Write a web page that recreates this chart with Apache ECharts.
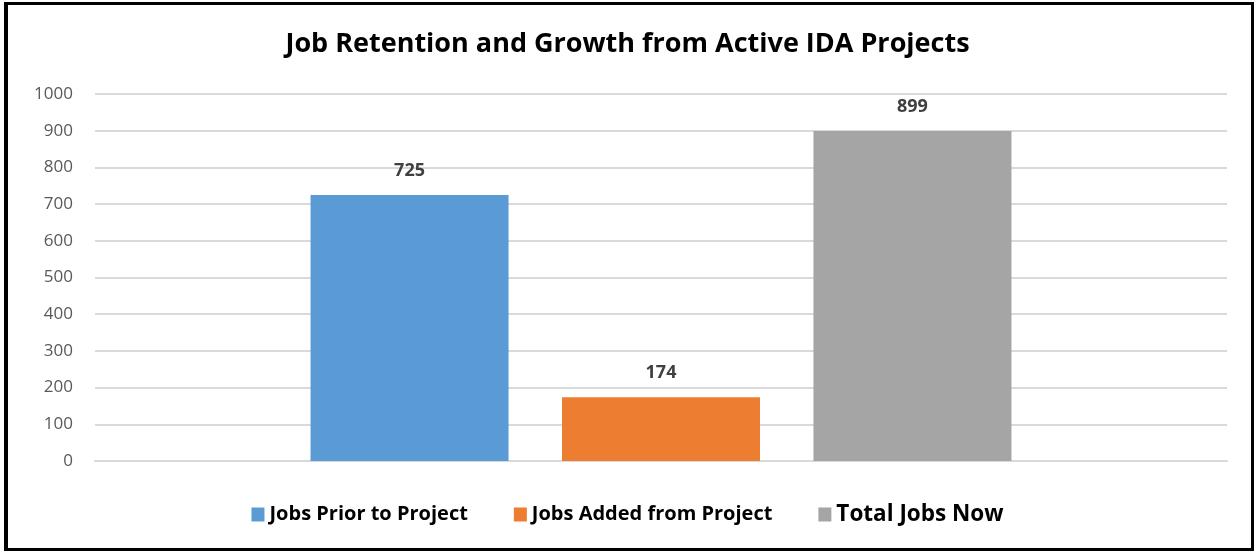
<!DOCTYPE html>
<html>
<head>
<meta charset="utf-8">
<script src="https://cdn.jsdelivr.net/npm/echarts@6/dist/echarts.min.js"></script>
<style>
    html, body { margin: 0; padding: 0; background: #fff; }
    #chart { position: absolute; left: 0; top: 0; width: 1255px; height: 554px; }
    #frame {
        position: absolute; left: 4px; top: 2px; width: 1243px; height: 543px;
        border: 3px solid #000; border-left-width: 4px; pointer-events: none;
    }
</style>
</head>
<body>
<div id="chart"></div>
<div id="frame"></div>
<script>
'use strict';
const titleText = 'Job Retention and Growth from Active IDA Projects';
const categories = ['Jobs'];
const seriesNames = ['Jobs Prior to Project', 'Jobs Added from Project', 'Total Jobs Now'];
const seriesValues = [[725], [174], [899]];
const seriesColors = ['#5b9bd5', '#ed7d31', '#a5a5a5'];
const yTicks = { min: 0, max: 1000, interval: 100 };

function init() {
    const chart = echarts.init(document.getElementById('chart'));
    const font = '"Open Sans", Lato, sans-serif';
    const option = {
        color: seriesColors,
        animation: false,
        title: {
            text: titleText,
            left: 'center',
            top: 26,
            textStyle: { fontFamily: font, fontSize: 27, fontWeight: 'bold', color: '#000' },
        },
        grid: { left: 95, right: 28, top: 94, bottom: 93 },
        legend: {
            bottom: 23,
            left: 'center',
            itemWidth: 13,
            itemHeight: 14,
            itemGap: 46,
            itemTextGap: 12,
            icon: 'rect',
            textStyle: { fontFamily: font, fontSize: 20, fontWeight: 'bold', color: '#000' },
            data: [
                { name: seriesNames[0] },
                { name: seriesNames[1] },
                { name: seriesNames[2], textStyle: { fontSize: 22.5 } },
            ],
        },
        xAxis: {
            type: 'category',
            data: categories,
            axisLine: { show: true, lineStyle: { color: '#d9d9d9', width: 2 } },
            axisTick: { show: false },
            axisLabel: { show: false },
        },
        yAxis: {
            type: 'value',
            min: yTicks.min,
            max: yTicks.max,
            interval: yTicks.interval,
            axisLine: { show: false },
            axisTick: { show: false },
            axisLabel: {
                fontFamily: font, fontSize: 17, color: '#595959', margin: 22,
                formatter: (v) => String(v),
            },
            splitLine: { lineStyle: { color: '#d9d9d9', width: 2 } },
        },
        series: seriesNames.map((name, i) => ({
            name: name,
            type: 'bar',
            data: seriesValues[i],
            barWidth: 198,
            barGap: '27%',
            label: {
                show: true,
                position: 'top',
                distance: 15,
                fontFamily: font,
                fontSize: 18,
                fontWeight: 'bold',
                color: '#404040',
            },
        })),
    };
    chart.setOption(option);
}

init();
</script>
</body>
</html>
